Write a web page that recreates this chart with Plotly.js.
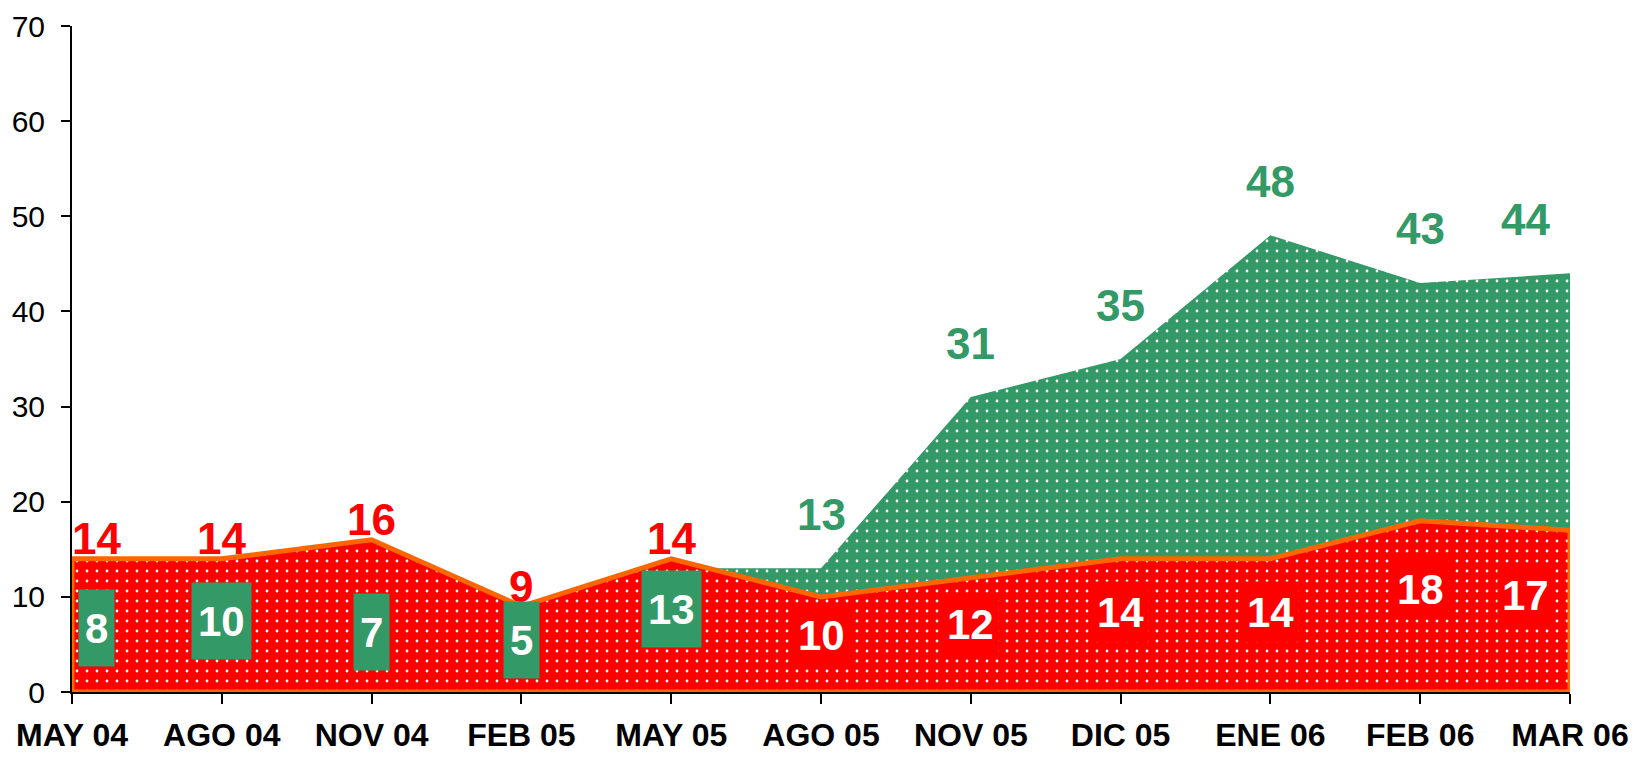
<!DOCTYPE html>
<html>
<head>
<meta charset="utf-8">
<script src="https://cdn.plot.ly/plotly-3.0.1.min.js"></script>
<style>
  html, body { margin: 0; padding: 0; background: #ffffff; }
  #chart { width: 1635px; height: 759px; }
</style>
</head>
<body>
<div id="chart"></div>
<script>
const categories = ['MAY 04','AGO 04','NOV 04','FEB 05','MAY 05','AGO 05','NOV 05','DIC 05','ENE 06','FEB 06','MAR 06'];
const redValues = [14, 14, 16, 9, 14, 10, 12, 14, 14, 18, 17];
const greenValues = [8, 10, 7, 5, 13, 13, 31, 35, 48, 43, 44];
const yTicks = [0, 10, 20, 30, 40, 50, 60, 70];

const RED = '#FF0000';
const GREEN = '#339966';
const ORANGE = '#FF6600';
const FONT = 'Liberation Sans, Arial, sans-serif';

const first = categories[0];
const last = categories[categories.length - 1];

const greenTrace = {
  type: 'scatter',
  mode: 'none',
  x: categories,
  y: greenValues,
  fill: 'tozeroy',
  fillcolor: GREEN,
  fillpattern: { shape: '.', bgcolor: GREEN, fgcolor: '#ffffff', size: 10, solidity: 0.06, fillmode: 'replace' },
  hoverinfo: 'skip',
  showlegend: false
};

const redTrace = {
  type: 'scatter',
  mode: 'lines',
  x: [first].concat(categories, [last, first]),
  y: [0].concat(redValues, [0, 0]),
  fill: 'toself',
  fillcolor: RED,
  fillpattern: { shape: '.', bgcolor: RED, fgcolor: '#ffffff', size: 10, solidity: 0.06, fillmode: 'replace' },
  line: { color: ORANGE, width: 5, shape: 'linear' },
  hoverinfo: 'skip',
  showlegend: false
};

const annotations = [];
categories.forEach((c, i) => {
  const r = redValues[i], g = greenValues[i];
  const xs = i === 0 ? 24 : (i === categories.length - 1 ? -45 : 0);
  if (r > g) {
    annotations.push({ x: c, y: r, xref: 'x', yref: 'y', text: String(r), showarrow: false,
      xshift: xs, yshift: 20, font: { family: FONT, size: 44, color: RED, weight: 'bold' } });
    annotations.push({ x: c, y: g * 0.4 + 3.5, xref: 'x', yref: 'y', text: String(g), showarrow: false,
      xshift: xs, bgcolor: GREEN, borderpad: 6, height: 64,
      font: { family: FONT, size: 42, color: '#ffffff', weight: 'bold' } });
  } else {
    annotations.push({ x: c, y: g, xref: 'x', yref: 'y', text: String(g), showarrow: false,
      xshift: xs, yshift: 54, font: { family: FONT, size: 44, color: GREEN, weight: 'bold' } });
    annotations.push({ x: c, y: r * 0.6, xref: 'x', yref: 'y', text: String(r), showarrow: false,
      xshift: xs, bgcolor: RED, borderpad: 4, height: 52,
      font: { family: FONT, size: 42, color: '#ffffff', weight: 'bold' } });
  }
});

const layout = {
  width: 1635,
  height: 759,
  margin: { l: 72, r: 65, t: 26, b: 67 },
  paper_bgcolor: '#ffffff',
  plot_bgcolor: '#ffffff',
  showlegend: false,
  xaxis: {
    type: 'category',
    categoryorder: 'array',
    categoryarray: categories,
    range: [0, categories.length - 1],
    showgrid: false,
    zeroline: false,
    showline: true,
    linecolor: '#000000',
    linewidth: 2,
    ticks: 'outside',
    ticklen: 10,
    tickwidth: 2,
    tickcolor: '#000000',
    ticklabelstandoff: 4,
    tickfont: { family: FONT, size: 32, color: '#000000', weight: 'bold' },
    fixedrange: true
  },
  yaxis: {
    range: [0, 70],
    tickvals: yTicks,
    ticktext: yTicks.map(String),
    showgrid: false,
    zeroline: false,
    showline: true,
    linecolor: '#000000',
    linewidth: 2,
    ticks: 'outside',
    ticklen: 9,
    tickwidth: 2,
    tickcolor: '#000000',
    ticklabelstandoff: 10,
    tickfont: { family: FONT, size: 30, color: '#000000' },
    fixedrange: true
  },
  annotations: annotations
};

Plotly.newPlot('chart', [greenTrace, redTrace], layout, { displayModeBar: false, staticPlot: true });
</script>
</body>
</html>
